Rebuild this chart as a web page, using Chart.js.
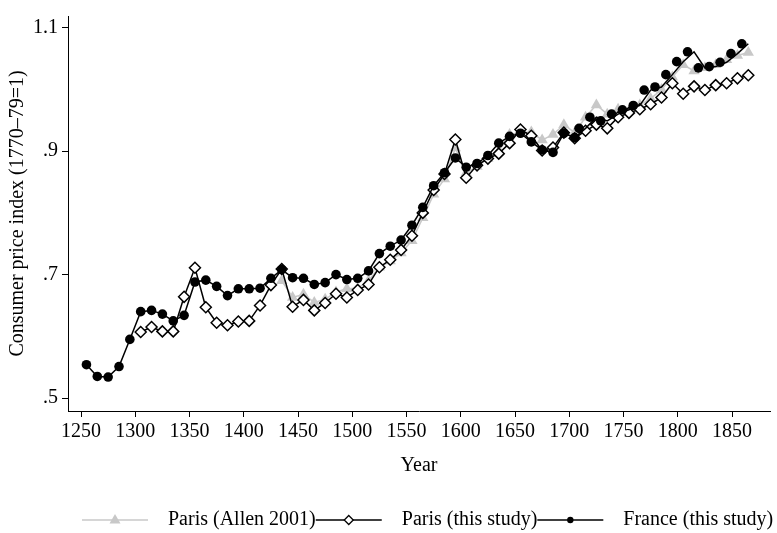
<!DOCTYPE html>
<html>
<head>
<meta charset="utf-8">
<script src="https://cdn.jsdelivr.net/npm/chart.js@4.4.1/dist/chart.umd.min.js"></script>
<style>
  body { margin: 0; background: #ffffff; }
</style>
</head>
<body>
<canvas id="grafico" width="777" height="533"></canvas>
<script>
// France: as bolinhas depois de 1705 aparecem uns anos antes da linha no original
const anosFranca = [1255, 1265, 1275, 1285, 1295, 1305, 1315, 1325, 1335, 1345, 1355, 1365, 1375, 1385, 1395,
    1405, 1415, 1425, 1435, 1445, 1455, 1465, 1475, 1485, 1495, 1505, 1515, 1525, 1535, 1545, 1555, 1565,
    1575, 1585, 1595, 1605, 1615, 1625, 1635, 1645, 1655, 1665, 1675, 1685, 1695, 1705, 1709, 1719, 1729,
    1739, 1749, 1759, 1769, 1779, 1789, 1799, 1809, 1819, 1829, 1839, 1849, 1859];
const anosLinhaFranca = [1255, 1265, 1275, 1285, 1295, 1305, 1315, 1325, 1335, 1345, 1355, 1365, 1375, 1385, 1395,
    1405, 1415, 1425, 1435, 1445, 1455, 1465, 1475, 1485, 1495, 1505, 1515, 1525, 1535, 1545, 1555, 1565,
    1575, 1585, 1595, 1605, 1615, 1625, 1635, 1645, 1655, 1665, 1675, 1685, 1695, 1705, 1715, 1725, 1735,
    1745, 1755, 1765, 1775, 1785, 1795, 1805, 1815, 1825, 1835, 1845, 1855, 1865];
const valoresFranca = [.554, .535, .534, .551, .595, .640, .642, .636, .625, .634, .688, .691, .681, .666, .677,
    .677, .678, .694, .708, .695, .694, .684, .687, .700, .692, .694, .706, .734, .746, .756, .780, .809,
    .844, .865, .889, .874, .880, .893, .913, .924, .929, .915, .902, .898, .929, .922, .937, .955, .949,
    .960, .967, .974, .999, 1.004, 1.024, 1.045, 1.061, 1.035, 1.037, 1.044, 1.058, 1.074];

const anosParis = [1305, 1315, 1325, 1335, 1345, 1355, 1365, 1375, 1385, 1395, 1405, 1415, 1425, 1435, 1445,
    1455, 1465, 1475, 1485, 1495, 1505, 1515, 1525, 1535, 1545, 1555, 1565, 1575, 1585, 1595, 1605, 1615,
    1625, 1635, 1645, 1655, 1665, 1675, 1685, 1695, 1705, 1715, 1725, 1735, 1745, 1755, 1765, 1775, 1785,
    1795, 1805, 1815, 1825, 1835, 1845, 1855, 1865];
const valoresParis = [.607, .615, .608, .608, .664, .711, .647, .622, .618, .624, .625, .650, .683, .709, .648,
    .659, .642, .654, .669, .663, .675, .684, .712, .724, .740, .763, .800, .837, .863, .919, .857, .877,
    .888, .896, .913, .935, .925, .901, .906, .930, .921, .933, .943, .937, .955, .962, .968, .976, .987,
    1.010, .993, 1.005, .999, 1.007, 1.010, 1.018, 1.023];

const anosAllen = [1435, 1445, 1455, 1465, 1475, 1485, 1495, 1505, 1515, 1525, 1535, 1545, 1555, 1565, 1575,
    1585, 1595, 1605, 1615, 1625, 1635, 1645, 1655, 1665, 1675, 1685, 1695, 1705, 1715, 1725, 1735, 1745,
    1755, 1765, 1775, 1785, 1795, 1805, 1815, 1825, 1835, 1845, 1855, 1865];
const valoresAllen = [.690, .663, .668, .655, .660, .672, .677, .678, .690, .712, .722, .735, .755, .792, .830,
    .855, .905, .865, .875, .888, .900, .927, .930, .931, .918, .927, .943, .930, .955, .975, .960, .968,
    .965, .975, .985, 1.000, 1.020, 1.040, 1.030, 1.035, 1.040, 1.048, 1.055, 1.060];

const ticksX = [1250, 1300, 1350, 1400, 1450, 1500, 1550, 1600, 1650, 1700, 1750, 1800, 1850];
const ticksY = [0.5, 0.7, 0.9, 1.1];
const rotulosY = ['.5', '.7', '.9', '1.1'];

const fonte = { family: '"Liberation Serif", "DejaVu Serif", serif', size: 20, lineHeight: 1.2 };

function pontos(anos, valores) {
    return anos.map((ano, i) => ({ x: ano, y: valores[i] }));
}

// legenda no estilo do Stata: linha com o marcador no meio e o texto logo depois
const itensLegenda = [
    { texto: 'Paris (Allen 2001)', cor: '#c8c8c8', marcador: 'triangulo' },
    { texto: 'Paris (this study)', cor: '#000000', marcador: 'losango' },
    { texto: 'France (this study)', cor: '#000000', marcador: 'bola' }
];

function desenharMarcador(ctx, tipo, x, y) {
    ctx.beginPath();
    if (tipo == 'triangulo') {
        ctx.fillStyle = '#c8c8c8';
        ctx.moveTo(x, y - 6);
        ctx.lineTo(x + 5.5, y + 3.5);
        ctx.lineTo(x - 5.5, y + 3.5);
        ctx.closePath();
        ctx.fill();
    } else if (tipo == 'losango') {
        ctx.fillStyle = '#ffffff';
        ctx.strokeStyle = '#000000';
        ctx.lineWidth = 1.3;
        ctx.moveTo(x, y - 4.5);
        ctx.lineTo(x + 4.5, y);
        ctx.lineTo(x, y + 4.5);
        ctx.lineTo(x - 4.5, y);
        ctx.closePath();
        ctx.fill();
        ctx.stroke();
    } else {
        ctx.fillStyle = '#000000';
        ctx.arc(x, y, 3.2, 0, Math.PI * 2);
        ctx.fill();
    }
}

const legendaStata = {
    id: 'legendaStata',
    afterDraw(chart) {
        const ctx = chart.ctx;
        ctx.save();
        ctx.font = '20px "Liberation Serif", "DejaVu Serif", serif';
        ctx.textBaseline = 'middle';
        let x = 82;
        const y = 520;
        itensLegenda.forEach(item => {
            ctx.strokeStyle = item.cor;
            ctx.lineWidth = 1.5;
            ctx.beginPath();
            ctx.moveTo(x, y);
            ctx.lineTo(x + 66, y);
            ctx.stroke();
            desenharMarcador(ctx, item.marcador, x + 33, y);
            ctx.fillStyle = '#000000';
            ctx.fillText(item.texto, x + 86, y);
            x += 86 + ctx.measureText(item.texto).width;
        });
        ctx.restore();
    }
};

new Chart(document.getElementById('grafico'), {
    type: 'line',
    data: {
        datasets: [
            {
                label: 'France (this study)',
                data: pontos(anosFranca, valoresFranca),
                showLine: false,
                pointStyle: 'circle',
                pointRadius: 4.8,
                pointBackgroundColor: '#000000',
                pointBorderColor: '#000000',
                pointBorderWidth: 0,
                order: 0
            },
            {
                label: 'France (linha)',
                data: pontos(anosLinhaFranca, valoresFranca),
                borderColor: '#000000',
                borderWidth: 1.5,
                pointRadius: 0,
                order: 1
            },
            {
                label: 'Paris (this study)',
                data: pontos(anosParis, valoresParis),
                borderColor: '#000000',
                borderWidth: 1.5,
                pointStyle: 'rectRot',
                pointRadius: 5.5,
                pointBackgroundColor: '#ffffff',
                pointBorderColor: '#000000',
                pointBorderWidth: 1.5,
                order: 2
            },
            {
                label: 'Paris (Allen 2001)',
                data: pontos(anosAllen, valoresAllen),
                borderColor: '#c8c8c8',
                borderWidth: 1.5,
                pointStyle: 'triangle',
                pointRadius: 6.5,
                pointBackgroundColor: '#c8c8c8',
                pointBorderColor: '#c8c8c8',
                pointBorderWidth: 0,
                order: 3
            }
        ]
    },
    options: {
        responsive: false,
        animation: false,
        layout: { padding: { top: 10, right: 2, bottom: 52, left: 0 } },
        plugins: {
            legend: { display: false },
            tooltip: { enabled: false }
        },
        scales: {
            x: {
                type: 'linear',
                min: 1238,
                max: 1885,
                afterBuildTicks: escala => { escala.ticks = ticksX.map(v => ({ value: v })); },
                afterFit: escala => { escala.height = 70; },
                ticks: { color: '#000000', font: fonte, padding: 3, maxRotation: 0, autoSkip: false, callback: v => String(v) },
                grid: { drawOnChartArea: false, tickLength: 6, tickColor: '#000000', tickWidth: 1 },
                border: { color: '#000000', width: 1 },
                title: { display: true, text: 'Year', color: '#000000', font: fonte, padding: { top: 0, bottom: 3 } }
            },
            y: {
                min: 0.479,
                max: 1.119,
                afterBuildTicks: escala => { escala.ticks = ticksY.map(v => ({ value: v })); },
                afterFit: escala => { escala.width = 68; },
                ticks: { color: '#000000', font: fonte, padding: 4, callback: (v, i) => rotulosY[i] },
                grid: { drawOnChartArea: false, tickLength: 6, tickColor: '#000000', tickWidth: 1 },
                border: { color: '#000000', width: 1 },
                title: { display: true, text: 'Consumer price index (1770–79=1)', color: '#000000', font: fonte, padding: { top: 6, bottom: 0 } }
            }
        }
    },
    plugins: [legendaStata]
});
</script>
</body>
</html>
